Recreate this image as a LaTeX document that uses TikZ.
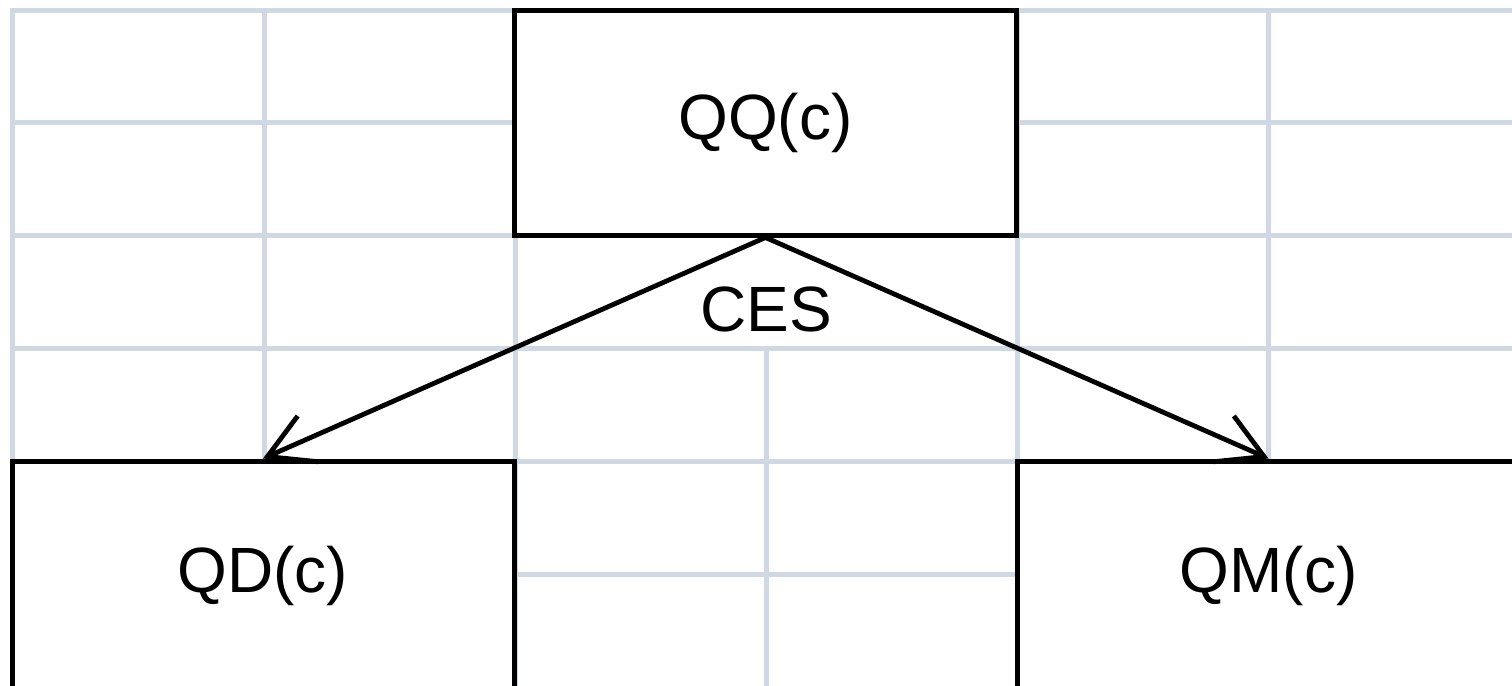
\documentclass[tikz,border=0pt]{standalone}
\usepackage{fontspec}
\setmainfont{Liberation Sans}
\usetikzlibrary{arrows.meta}
\definecolor{gridc}{RGB}{208,216,228}
\begin{document}
\begin{tikzpicture}[x=0.5pt,y=-0.5pt,
  gridline/.style={draw=gridc, line width=2.5pt, line cap=rect},
  box/.style={draw=black, fill=white, line width=2.5pt, inner sep=0pt,
    minimum width=251pt, minimum height=112.5pt, font=\fontsize{32}{36}\selectfont},
  lowbox/.style={box, minimum height=114.5pt},
  lbl/.style={inner sep=0pt, font=\fontsize{32}{36}\selectfont},
  conn/.style={line width=2.4pt, -{Straight Barb[length=22pt,width=25pt,line width=2.4pt]}},
]
\useasboundingbox (0,0) rectangle (1512,686);
\clip (0,0) rectangle (1512,686);
\fill[white] (0,0) rectangle (1512,686);
% grid
\foreach \y in {10,122,235,348,461,574} \draw[gridline] (12,\y) -- (1530,\y);
\foreach \x in {12,264,515,1017,1268} \draw[gridline] (\x,10) -- (\x,700);
\draw[gridline] (766,348) -- (766,700);
% boxes
\node[box] (QQ) at (765.5,122.5) {\raisebox{-1pt}{QQ(c)}};
\node[lowbox] (QD) at (263,575.5) {\raisebox{-1pt}{QD(c)}};
\node[lowbox] (QM) at (1268.5,575.5) {\raisebox{-1pt}{QM(c)}};
\node[lbl] (CES) at (766,309) {CES};
% connectors
\draw[conn] (QQ.south) -- (QD.north);
\draw[conn] (QQ.south) -- (QM.north);
\end{tikzpicture}
\end{document}
